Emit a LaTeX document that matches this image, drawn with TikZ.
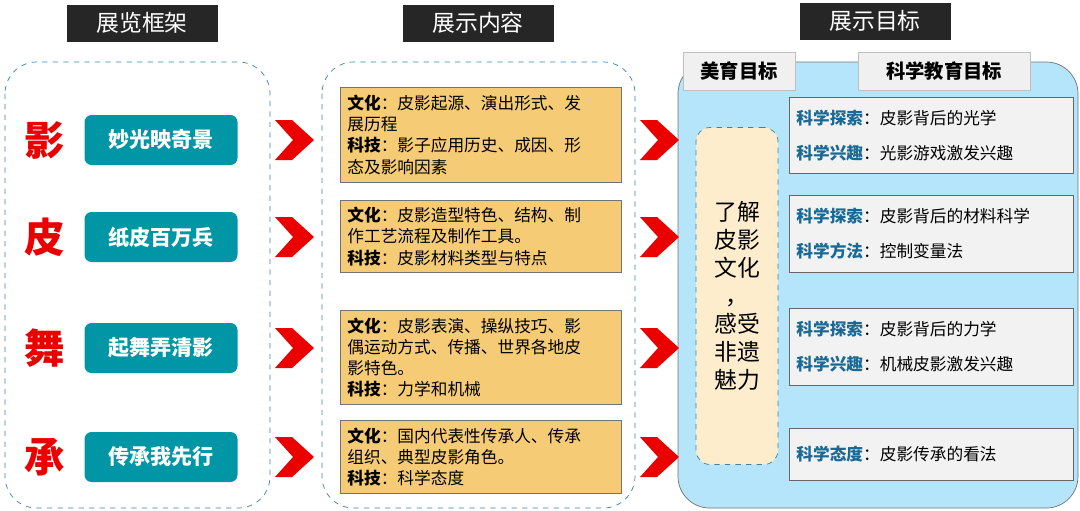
\documentclass[tikz,border=0pt]{standalone}
\usepackage{fontspec}
\setmainfont{Noto Sans CJK SC}
\usetikzlibrary{positioning}
\definecolor{tealbox}{RGB}{0,150,165}
\definecolor{orangebox}{RGB}{245,204,117}
\definecolor{skybg}{RGB}{180,229,250}
\definecolor{dashblue}{RGB}{60,130,170}
\definecolor{labblue}{RGB}{25,105,150}
\definecolor{creambox}{RGB}{253,237,205}
\definecolor{redchar}{RGB}{235,0,0}
\newcommand{\lab}[1]{\textbf{\color{labblue}#1}}
\begin{document}
\begin{tikzpicture}[x=0.02cm,y=-0.02cm,
    header/.style={fill=black!85,text=white,font=\fontsize{13}{13}\selectfont,minimum width=151*0.02cm,minimum height=37*0.02cm,inner sep=0pt},
    tabbox/.style={fill=black!6,draw=black!25,font=\bfseries\fontsize{11}{11}\selectfont,minimum height=38*0.02cm,inner sep=0pt},
    bigchar/.style={text=redchar,font=\bfseries\fontsize{23}{23}\selectfont},
    titlebox/.style={fill=tealbox,text=white,rounded corners=4pt,font=\bfseries\fontsize{12}{12}\selectfont,minimum width=153*0.02cm,minimum height=50*0.02cm,inner sep=0pt},
    contentbox/.style={fill=orangebox,draw=black!55,font=\fontsize{9.5}{12}\selectfont,text width=267*0.02cm,align=left,inner sep=4pt,anchor=north west},
    goalbox/.style={fill=black!5,draw=black!60,font=\fontsize{9.5}{20}\selectfont,text width=270*0.02cm,align=left,inner sep=4pt,anchor=north west},
    chevron/.style={fill=redchar,draw=none}
]
\useasboundingbox (0,0) rectangle (1080,511);
% frames
\draw[dashblue,dashed,rounded corners=18pt] (5,62) rectangle (270,508);
\draw[dashblue,dashed,rounded corners=18pt] (322,62) rectangle (635,508);
\draw[black!55,fill=skybg,rounded corners=18pt] (678,62) rectangle (1078,508);
% headers
\foreach \x/\y/\t/\n in {142/23/展览框架/hA,478/23/展示内容/hB,875/21/展示目标/hC}
  \node[header] (\n) at (\x,\y) {\t};
\node[tabbox,minimum width=112*0.02cm] (tabA) at (739,71) {美育目标};
\node[tabbox,minimum width=172*0.02cm] (tabB) at (944,71) {科学教育目标};
% left column
\foreach \y/\c/\t/\n in {140/影/妙光映奇景/1,237/皮/纸皮百万兵/2,348/舞/起舞弄清影/3,457/承/传承我先行/4}{
  \node[bigchar] (c\n) at (45,\y) {\c};
  \node[titlebox] (t\n) at (161,\y) {\t};
  \fill[chevron] (275,\y-20) -- (292,\y-20) -- (314,\y) -- (292,\y+20) -- (275,\y+20) -- (293,\y) -- cycle;
  \fill[chevron] (640,\y-20) -- (657,\y-20) -- (679,\y) -- (657,\y+20) -- (640,\y+20) -- (658,\y) -- cycle;
}
% content
\node[contentbox,minimum height=95*0.02cm] (k1) at (340,87) {\textbf{文化}：皮影起源、演出形式、发\\展历程\\\textbf{科技}：影子应用历史、成因、形\\态及影响因素};
\node[contentbox,minimum height=72*0.02cm] (k2) at (340,200) {\textbf{文化}：皮影造型特色、结构、制\\作工艺流程及制作工具。\\\textbf{科技}：皮影材料类型与特点};
\node[contentbox,minimum height=94*0.02cm] (k3) at (340,310) {\textbf{文化}：皮影表演、操纵技巧、影\\偶运动方式、传播、世界各地皮\\影特色。\\\textbf{科技}：力学和机械};
\node[contentbox,minimum height=73*0.02cm] (k4) at (340,420) {\textbf{文化}：国内代表性传承人、传承\\组织、典型皮影角色。\\\textbf{科技}：科学态度};
% goals
\node[draw=dashblue,dashed,fill=creambox,rounded corners=8pt,minimum width=82*0.02cm,minimum height=337*0.02cm,align=center,font=\fontsize{13}{16}\selectfont] (mg) at (737,296) {了解\\皮影\\文化\\，\\感受\\非遗\\魅力};
\node[goalbox,minimum height=76*0.02cm] (g1) at (789,97) {\lab{科学探索}：皮影背后的光学\\\lab{科学兴趣}：光影游戏激发兴趣};
\node[goalbox,minimum height=77*0.02cm] (g2) at (789,195) {\lab{科学探索}：皮影背后的材料科学\\\lab{科学方法}：控制变量法};
\node[goalbox,minimum height=77*0.02cm] (g3) at (789,308) {\lab{科学探索}：皮影背后的力学\\\lab{科学兴趣}：机械皮影激发兴趣};
\node[goalbox,minimum height=52*0.02cm] (g4) at (789,428) {\lab{科学态度}：皮影传承的看法};
\end{tikzpicture}
\end{document}
